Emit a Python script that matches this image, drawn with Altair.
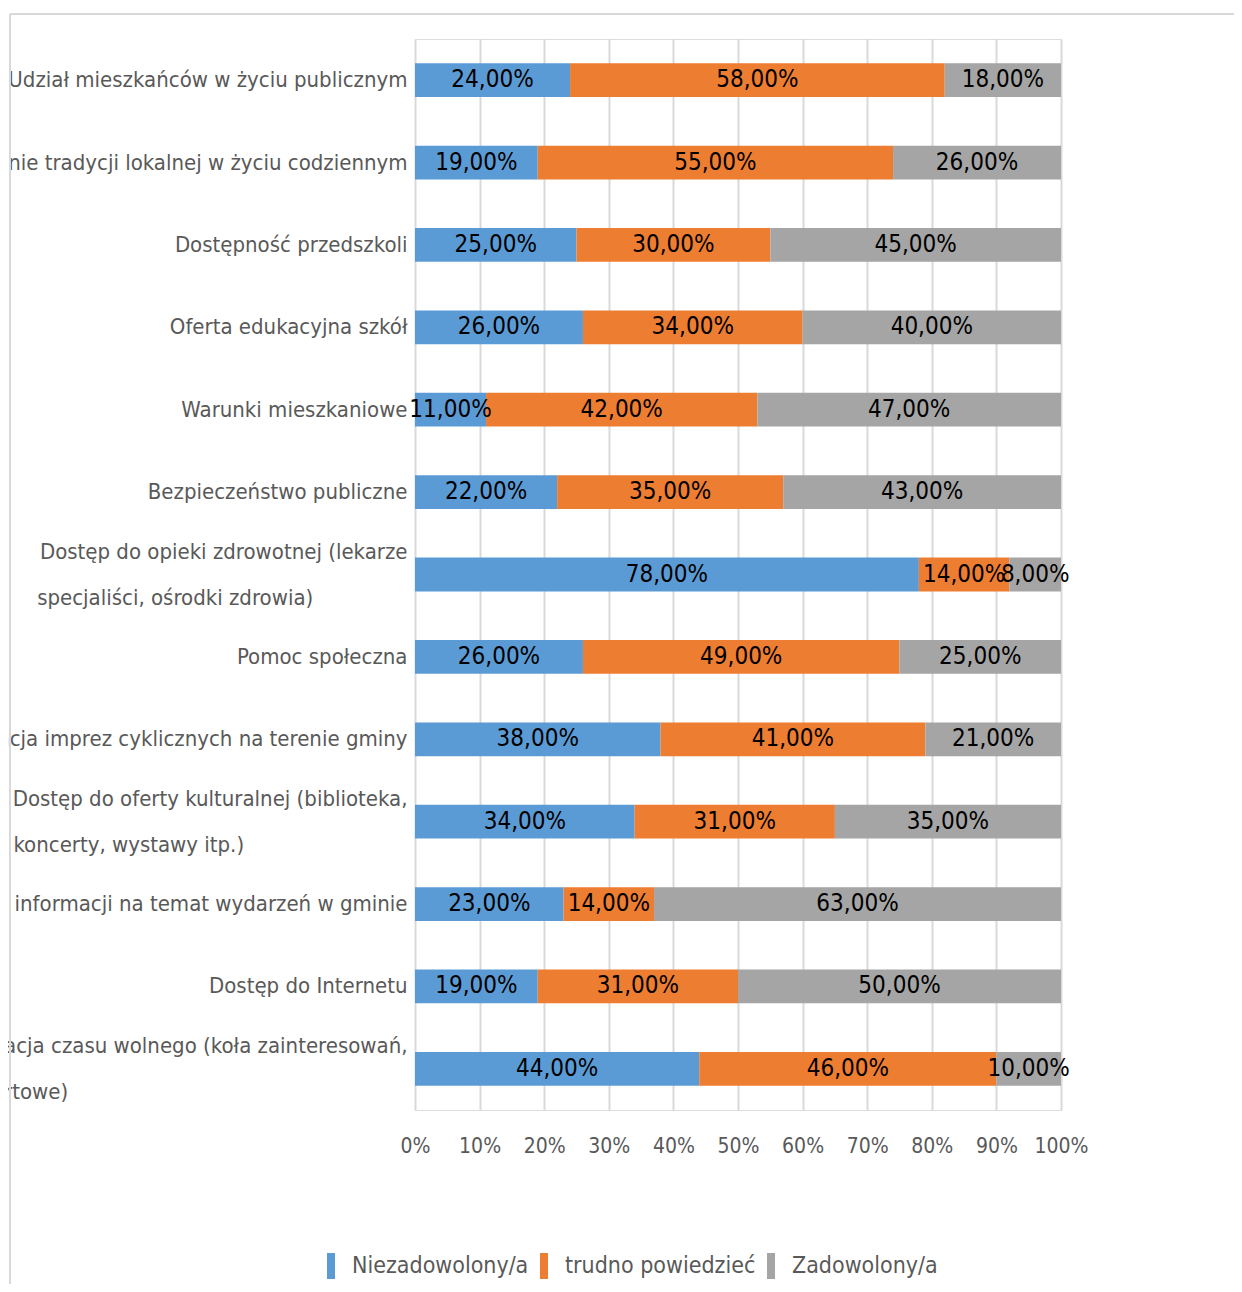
import altair as alt
import pandas as pd

categories = [
    "Udział mieszkańców w życiu publicznym",
    "Kultywowanie tradycji lokalnej w życiu codziennym",
    "Dostępność przedszkoli",
    "Oferta edukacyjna szkół",
    "Warunki mieszkaniowe",
    "Bezpieczeństwo publiczne",
    "Dostęp do opieki zdrowotnej (lekarze\nspecjaliści, ośrodki zdrowia)",
    "Pomoc społeczna",
    "Organizacja imprez cyklicznych na terenie gminy",
    "Dostęp do oferty kulturalnej (biblioteka,\nkoncerty, wystawy itp.)",
    "Dostęp do informacji na temat wydarzeń w gminie",
    "Dostęp do Internetu",
    "Organizacja czasu wolnego (koła zainteresowań,\nkluby sportowe)",
]
series = ["Niezadowolony/a", "trudno powiedzieć", "Zadowolony/a"]
niezadowolony = [24, 19, 25, 26, 11, 22, 78, 26, 38, 34, 23, 19, 44]
trudno = [58, 55, 30, 34, 42, 35, 14, 49, 41, 31, 14, 31, 46]
zadowolony = [18, 26, 45, 40, 47, 43, 8, 25, 21, 35, 63, 50, 10]
colors = ["#5B9BD5", "#ED7D31", "#A5A5A5"]
ticks = [0, 10, 20, 30, 40, 50, 60, 70, 80, 90, 100]

# second lines of wrapped labels are left-aligned under the first line:
# trailing no-break spaces (kept by a final zero-width space) do the alignment
NBSP = "\u00a0"
ZWSP = "\u200b"
second_line_fill = {6: 15, 9: 26, 12: 54}


def display(i, c):
    if "\n" not in c:
        return c
    l1, l2 = c.split("\n")
    return l1 + "\n" + l2 + NBSP * second_line_fill.get(i, 0) + ZWSP


shown = [display(i, c) for i, c in enumerate(categories)]

rows = []
for i, c in enumerate(shown):
    for j, (s, vals) in enumerate(zip(series, [niezadowolony, trudno, zadowolony])):
        v = vals[i]
        rows.append({
            "category": c,
            "status": s,
            "order": j,
            "value": v,
            "label": f"{v:.2f}".replace(".", ",") + "%",
        })
df = pd.DataFrame(rows)

FONT = "DejaVu Sans Condensed, DejaVu Sans, sans-serif"

base = alt.Chart(df).transform_stack(
    stack="value", groupby=["category"], as_=["x0", "x1"],
    sort=[alt.SortField("order", order="ascending")],
).transform_calculate(mid="(datum.x0 + datum.x1) / 2")

y_enc = alt.Y(
    "category:N", sort=shown, title=None,
    axis=alt.Axis(
        labelExpr="split(datum.label, '\\n')",
        labelFont=FONT, labelFontSize=22, labelColor="#595959",
        labelLimit=0, labelLineHeight=46, labelPadding=8,
        labelOffset={"condition": {"test": "indexof(datum.value, '\\n') >= 0", "value": -23}, "value": 0},
        ticks=False, domain=False, grid=False,
    ),
    scale=alt.Scale(paddingInner=0.59, paddingOuter=0.295),
)

bars = base.mark_bar().encode(
    y=y_enc,
    x=alt.X(
        "x0:Q", title=None,
        scale=alt.Scale(domain=[0, 100], nice=False),
        axis=alt.Axis(
            values=ticks, labelExpr="datum.value + '%'",
            labelFont=FONT, labelFontSize=21, labelColor="#595959",
            labelPadding=25, labelOverlap=False, labelFlush=False,
            ticks=False, domain=False,
            grid=True, gridColor="#D9D9D9", gridWidth=2,
        ),
    ),
    x2="x1:Q",
    color=alt.Color(
        "status:N", sort=series,
        scale=alt.Scale(domain=series, range=colors),
        legend=alt.Legend(
            title=None, orient="none", direction="horizontal",
            legendX=-97, legendY=1214,
            labelFont=FONT, labelFontSize=23, labelColor="#595959", labelLimit=0,
            symbolType="M-0.31,-1L0.31,-1L0.31,1L-0.31,1Z", symbolSize=676,
            symbolStrokeWidth=0, columnPadding=2, labelOffset=8,
        ),
    ),
)

texts = base.mark_text(font=FONT, fontSize=24, color="#000000", baseline="middle").encode(
    y=alt.Y("category:N", sort=shown),
    x=alt.X("mid:Q"),
    text="label:N",
)

frame_data = alt.InlineData(values=[{"k": 1}])
frame_top = alt.Chart(frame_data).mark_rule(color="#D9D9D9", strokeWidth=2).encode(
    x=alt.value(-405), x2=alt.value(830), y=alt.value(-25)
)
frame_left = alt.Chart(frame_data).mark_rule(color="#D9D9D9", strokeWidth=2).encode(
    x=alt.value(-405), y=alt.value(-25), y2=alt.value(1260)
)

chart = alt.layer(frame_top, frame_left, bars, texts).properties(
    width=646, height=1071,
    autosize=alt.AutoSizeParams(type="none"),
    padding={"left": 407, "top": 31, "right": 173, "bottom": 174},
).configure_view(stroke=None).configure(background="#FFFFFF")

chart.save("out.html", embed_options={"renderer": "svg", "actions": False})
